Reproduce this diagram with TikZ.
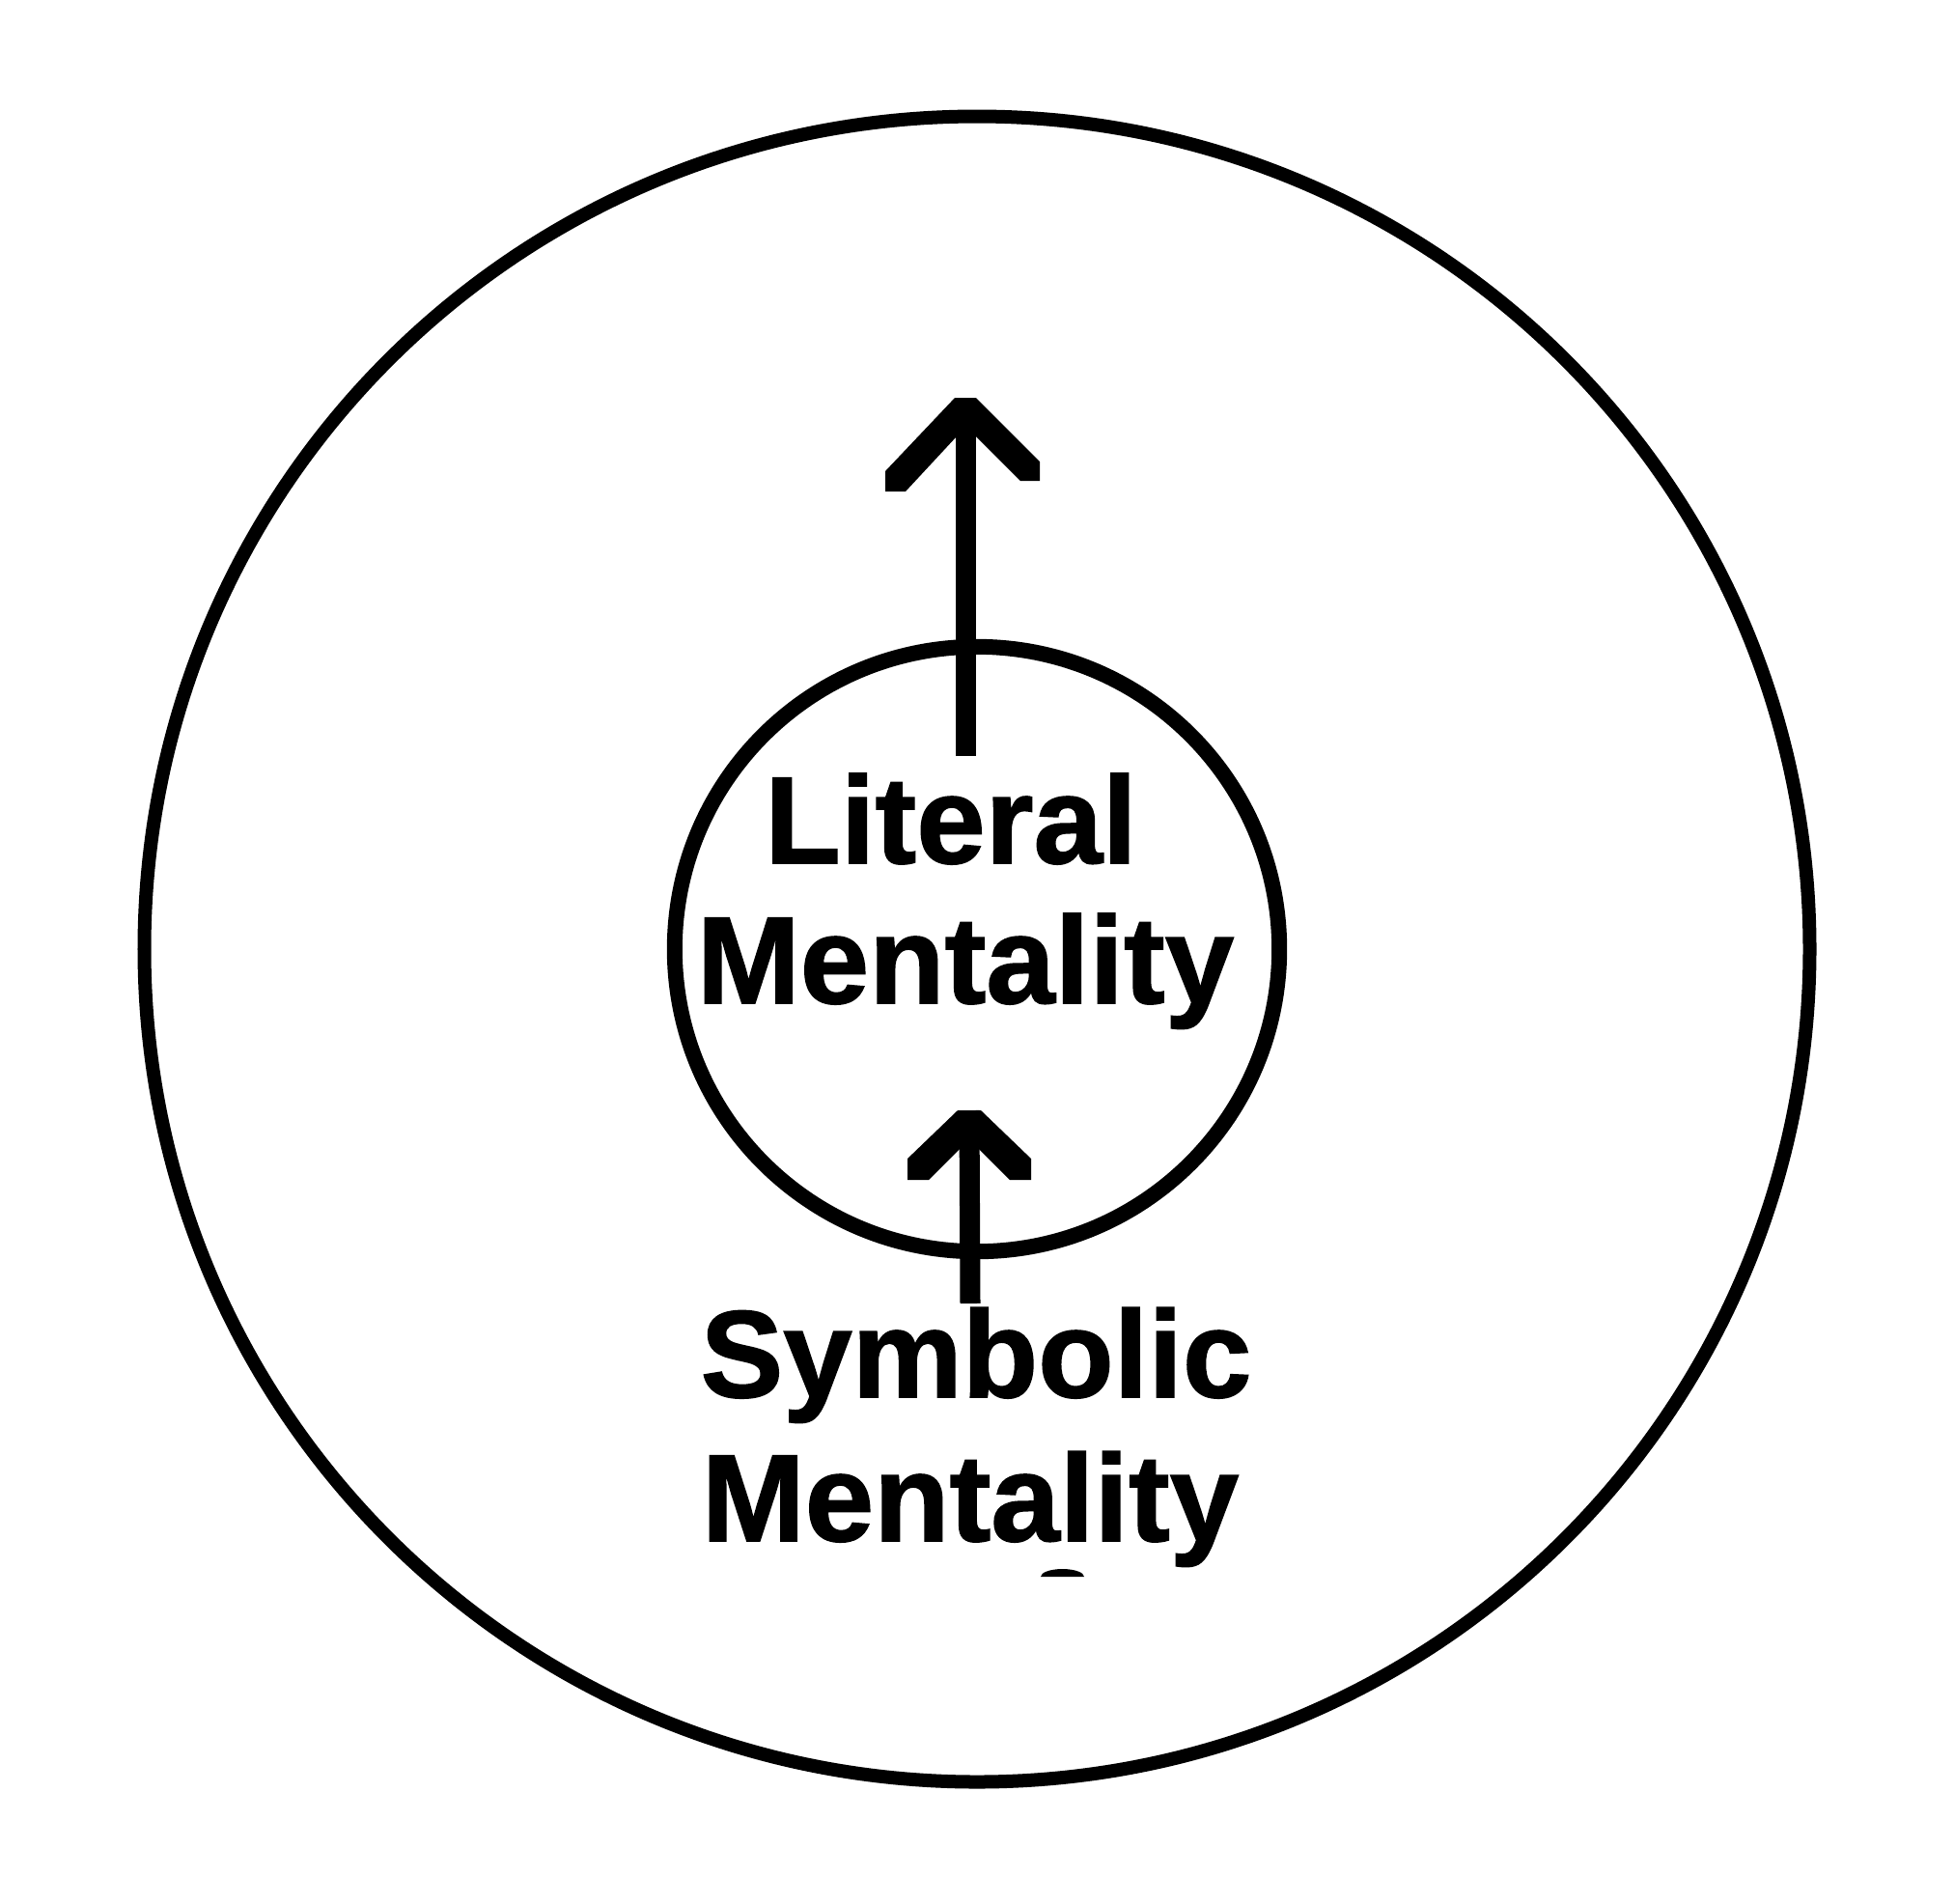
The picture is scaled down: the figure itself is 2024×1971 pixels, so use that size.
\documentclass[tikz,border=0pt]{standalone}
\usepackage{fontspec}
\setmainfont{Liberation Sans}
\newfontfamily\heavyfont[FakeBold=1.2]{Liberation Sans Bold}

\begin{document}
\begin{tikzpicture}[x=0.01cm,y=-0.01cm,
        ring/.style={draw=black,line width=0.14cm},
        txt/.style={font=\fontsize{36.5}{43}\selectfont\heavyfont,anchor=base,inner sep=0pt},
        shaft/.style={line width=0.21cm}]
        \useasboundingbox (0,0) rectangle (2024,1971);
        % the two circles
        \coordinate (c) at (1012,983);
        \draw[ring] (c) circle [radius=8.62cm];
        \draw[ring,line width=0.16cm] (c) circle [radius=3.13cm];
        % labels
        \node[txt] (lit1) at (985,894) {Literal};
        \node[txt] (lit2) at (1000,1039) {Mentality};
        \node[txt] (sym1) at (1011,1447) {Symbolic};
        \node[txt] (sym2) at (1005,1596) {Mentality};
        % outer arrow
        \coordinate (outtail) at (1000,783);
        \coordinate (outtip) at (1000,412);
        \draw[shaft] (outtail) -- (outtip);
        \fill[shift={(outtip)}] (-11,0) -- (11,0) -- (77,66) -- (77,86) -- (57,86) -- (10,39)
                             -- (-10,41) -- (-62,97) -- (-83,97) -- (-83,76) -- cycle;
        % inner arrow
        \coordinate (intail) at (1005,1350);
        \coordinate (intip) at (1004,1150);
        \draw[shaft] (intail) -- (intip);
        \fill[shift={(intip)}] (-12,0) -- (12,0) -- (64,50) -- (64,72) -- (42,72) -- (10,40)
                            -- (-10,40) -- (-42,72) -- (-64,72) -- (-64,50) -- cycle;
        % small mark
        \fill (1078,1633) -- (1123,1633) arc [start angle=0, end angle=180, x radius=0.225cm, y radius=0.08cm] -- cycle;
\end{tikzpicture}
\end{document}
